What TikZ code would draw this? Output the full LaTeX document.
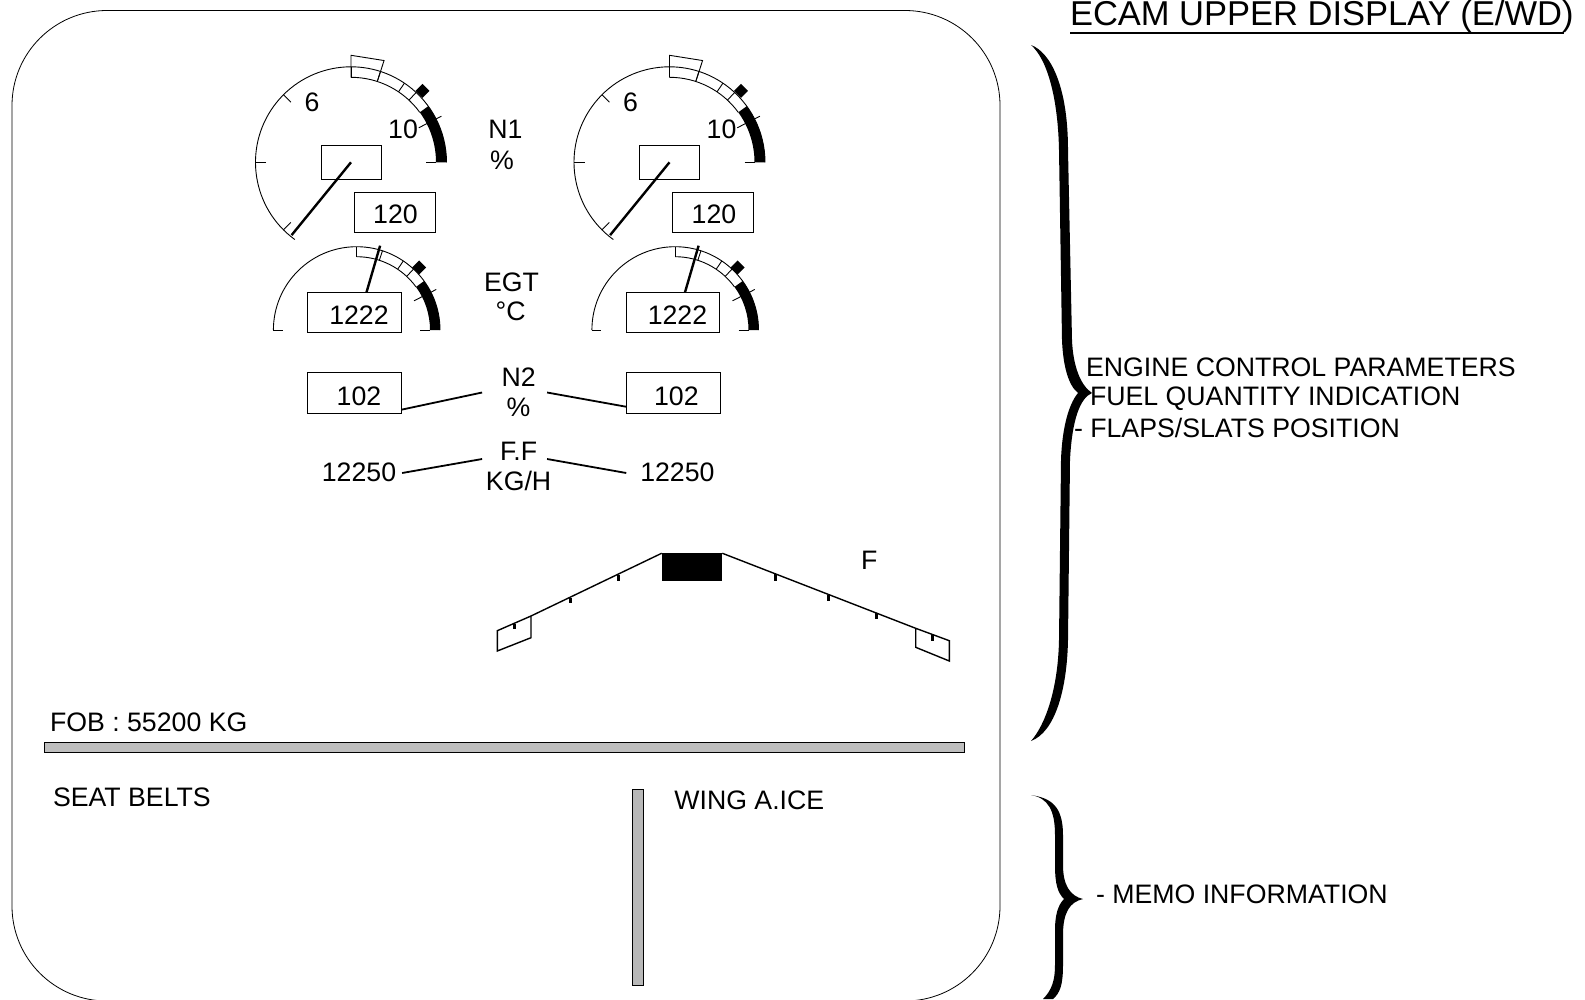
\documentclass[tikz,border=0pt]{standalone}
\usepackage{fontspec}
\setmainfont{Liberation Sans}
\usepackage{tikz}
\usetikzlibrary{arrows.meta,positioning,calc}
\definecolor{barfill}{HTML}{BEBEBE}
\definecolor{postfill}{HTML}{B8B8B8}
% one gauge: #1 centre, #2 outer radius, #3 inner radius, #4 start angle, #5 diamond radius
\newcommand{\gaugedial}[5]{%
  \draw[dialline] ($(#1)+(-#4:#2)$) arc[start angle=-#4, end angle=0, radius=#2];
  \draw[dialline] ($(#1)+(-90:#3)$) arc[start angle=-90, end angle=-36, radius=#3];
  \fill ($(#1)+(-36:#2)$) arc[start angle=-36, end angle=0, radius=#2]
    -- ($(#1)+(0:#3)$) arc[start angle=0, end angle=-36, radius=#3] -- cycle;
  \foreach \a in {72,56,47,90} {
    \draw[dialline] ($(#1)+(-\a:#3)$) -- ($(#1)+(-\a:#2)$);
  }
  \draw[dialline] ($(#1)+(-27:#3-9)$) -- ($(#1)+(-27:#2+6)$);
  \draw[dialline] ($(#1)+(0:#3-10)$) -- ($(#1)+(0:#3)$);
  \fill ($(#1)+(-45:#5)+(7,0)$) -- ++(-7,7) -- ++(-7,-7) -- ++(7,-7) -- cycle;
}
\begin{document}
\begin{tikzpicture}[
  x=1pt,
  y=-1pt,
  every node/.style={font=\fontsize{26.7}{30}\selectfont, inner sep=0pt, outer sep=0pt},
  dialline/.style={draw=black, line width=0.9pt},
  needle/.style={draw=black, line width=2.4pt},
  readout/.style={draw=black, line width=0.9pt, fill=white},
  paramlabel/.style={align=center, minimum width=73pt},
  wingline/.style={draw=black, line width=1.4pt},
  slat/.style={draw=black, line width=3pt},
  connector/.style={draw=black, line width=1.8pt},
  hbrace/.style={fill=black}
]
\useasboundingbox (0,0) rectangle (1585,999);

% display frame
\draw[line width=0.8pt, rounded corners=95pt] (12,10.5) rectangle (1000,1001);

% N1 and EGT gauges
\foreach \dx/\g in {0/a,318.5/b} {
  \begin{scope}[xshift=\dx pt]
    \coordinate (n1c\g) at (351,162.3);
    \gaugedial{n1c\g}{95.5}{85}{234}{101}
    \draw[dialline] ($(n1c\g)+(-90:85)$) -- ($(n1c\g)+(-90:107)$) -- ($(n1c\g)+(-72:107)$) -- ($(n1c\g)+(-72:85)$);
    \foreach \a in {135,180,225} {
      \draw[dialline] ($(n1c\g)+(-\a:85)$) -- ($(n1c\g)+(-\a:95.5)$);
    }
    \node[draw=black, line width=0.9pt, minimum width=60.3pt, minimum height=33.7pt] (n1box\g) at (351.2,162.2) {};
    \draw[needle] (n1c\g) -- ($(n1c\g)+(-230.8:94)$);
    \node[readout, minimum width=80.7pt, minimum height=40pt] (n1read\g) at (394.7,212.3) {};
    \node at (395.5,214) {120};
    \node at (312,102) {6};
    \node at (403,129) {10};

    \coordinate (egtc\g) at (356.7,330);
    \gaugedial{egtc\g}{83.3}{73.3}{180}{88.4}
    \draw[dialline] ($(egtc\g)+(180:83.3)$) -- ($(egtc\g)+(180:74)$);
    \node[readout, minimum width=93.6pt, minimum height=40.4pt] (egtbox\g) at (354.5,312.5) {};
    \node at (359,315) {1222};
    \draw[needle] ([xshift=12pt]egtbox\g.north) -- ++(13.6,-46.6);
  \end{scope}
}

% centre labels
\node at (505.5,129) {N1};
\node at (502,160) {\%};
\node at (511.6,282) {EGT};
\node at (510.6,311.4) {°C};
\node[paramlabel] (n2) at (518.6,392.5) {N2\\\%};
\node[paramlabel] (ff) at (518.6,466) {F.F\\KG/H};

% N2 and fuel flow
\node[readout, minimum width=94pt, minimum height=41.5pt] (n2a) at (354.4,392.7) {};
\node[readout, minimum width=94pt, minimum height=41.5pt] (n2b) at (673,392.7) {};
\node at (359,396.3) {102};
\node at (676.4,396.3) {102};
\node[minimum width=73pt, minimum height=28pt] (ffa) at (359,472) {12250};
\node[minimum width=73pt, minimum height=28pt] (ffb) at (677.4,472) {12250};
\draw[connector] ([yshift=-17pt]n2a.east) -- (n2.west);
\draw[connector] ([xshift=-8pt]n2.east) -- ([yshift=-14pt]n2b.west);
\draw[connector] ([xshift=6pt,yshift=-1pt]ffa.east) -- ([yshift=7pt]ff.west);
\draw[connector] ([xshift=-8pt,yshift=7pt]ff.east) -- ([xshift=-14pt,yshift=-1pt]ffb.west);

% wing
\node[fill=black, minimum width=60.6pt, minimum height=27.5pt] (body) at (692,567) {};
\draw[wingline] (body.north west) -- (531,616) -- (497.3,630.7) -- (497.3,651) -- (531,637.7) -- (531,616);
\draw[wingline] (body.north east) -- (915.7,628.3) -- (949.3,640.7) -- (949.3,661) -- (915.7,647.3) -- (915.7,628.3);
\foreach \px/\pa/\pb in {618/575/580.7,570.7/597.7/602.7,514/624.3/629.3,775/574/580.7,828.3/595/601,876/612.7/619.3,932.7/635/640.7} {
  \draw[slat] (\px,\pa) -- (\px,\pb);
}
\node at (869.3,560.7) {F};

% lower part of the display
\node[anchor=west] at (50,722.7) {FOB : 55200 KG};
\draw[line width=0.9pt, fill=barfill] (44.6,742) rectangle (964.5,752.3);
\node[anchor=west] at (53,797.7) {SEAT BELTS};
\draw[line width=0.9pt, fill=postfill] (632.6,789.3) rectangle (643,985);
\node[anchor=west] at (674.4,800.7) {WING A.ICE};

% right-hand side
\node[anchor=base west, font=\fontsize{34.5}{36}\selectfont] (title) at (1070,25.6) {ECAM UPPER DISPLAY (E/WD)};
\draw[line width=2pt] (1070,32.5) -- (1563.6,32.5);
\fill[hbrace] (1031,45) .. controls (1050,52) and (1068,85) .. (1068,150)
  -- (1072,340) .. controls (1073,365) and (1080,385) .. (1092,393)
  .. controls (1080,398) and (1072,420) .. (1070,460)
  -- (1068,640) .. controls (1067,690) and (1055,732) .. (1031,741)
  .. controls (1045,725) and (1058,690) .. (1059,640)
  -- (1061,460) .. controls (1062,430) and (1068,405) .. (1078,393)
  .. controls (1068,385) and (1063,365) .. (1062,340)
  -- (1059,150) .. controls (1058,100) and (1048,60) .. (1031,45) -- cycle;
\fill[hbrace] (1031,795) .. controls (1050,798) and (1063,805) .. (1063,835)
  -- (1063,865) .. controls (1063,885) and (1070,896) .. (1083,899)
  .. controls (1070,902) and (1063,912) .. (1063,935)
  -- (1063,965) .. controls (1063,985) and (1060,993) .. (1053,999)
  -- (1043,999) .. controls (1052,990) and (1055,980) .. (1055,965)
  -- (1055,930) .. controls (1055,915) and (1058,905) .. (1064,899)
  .. controls (1058,893) and (1055,885) .. (1055,865)
  -- (1055,835) .. controls (1055,810) and (1048,798) .. (1031,795) -- cycle;
\node[anchor=west] at (1086,367) {ENGINE CONTROL PARAMETERS};
\node[anchor=west] at (1090,399) {FUEL QUANTITY INDICATION};
\node[anchor=west] at (1074,428) {- FLAPS/SLATS POSITION};
\node[anchor=west] at (1096,894) {- MEMO INFORMATION};
\end{tikzpicture}
\end{document}
